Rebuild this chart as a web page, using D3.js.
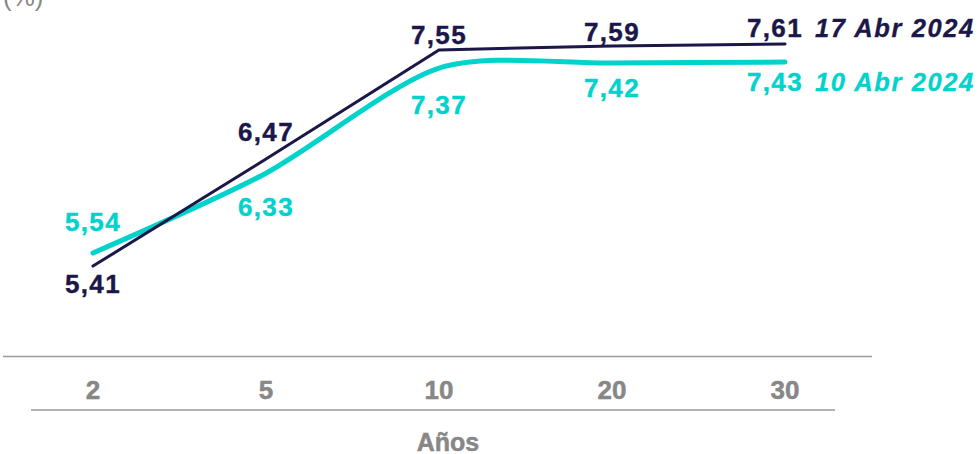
<!DOCTYPE html>
<html><head><meta charset="utf-8">
<script src="https://cdn.jsdelivr.net/npm/d3@7"></script>
<style>
html,body{margin:0;padding:0;background:#fff;}
svg{display:block;font-family:"Liberation Sans",Arial,sans-serif;}
</style></head>
<body>
<svg id="c" width="979" height="454"></svg>
<script>
const categories = ["2","5","10","20","30"];
const seriesApr17 = [5.41, 6.47, 7.55, 7.59, 7.61];
const seriesApr10 = [5.54, 6.33, 7.37, 7.42, 7.43];
const seriesNames = ["17 Abr 2024", "10 Abr 2024"];
const valueLabels17 = ["5,41","6,47","7,55","7,59","7,61"];
const valueLabels10 = ["5,54","6,33","7,37","7,42","7,43"];
// label layout: vertical baseline offset from the point (px)
const dy17 = [27, -18, -6, -5, -7];
const dy10 = [-22, 43, 46, 34, 29];

const svg = d3.select("#c");
const navy = "#1b1748", cyan = "#00d2cc", gray = "#878787";

const x = d3.scalePoint().domain(categories).range([93, 785]);
const y = d3.scaleLinear().domain([4.5, 8.0]).range([358, 4.5]);

// top baseline
svg.append("line").attr("x1",3).attr("x2",872).attr("y1",356.5).attr("y2",356.5)
  .attr("stroke","#9a9a9a").attr("stroke-width",1.5);
// lower axis
const axisG = svg.append("g").attr("transform","translate(0,410)");
axisG.append("line").attr("x1",31).attr("x2",835).attr("y1",0).attr("y2",0)
  .attr("stroke","#9a9a9a").attr("stroke-width",1.5);
axisG.selectAll("text.tick").data(categories).join("text")
  .attr("class","tick")
  .attr("x", d=>x(d)).attr("y",-11)
  .attr("text-anchor","middle")
  .attr("font-size",26).attr("font-weight","bold").attr("fill",gray)
  .attr("stroke",gray).attr("stroke-width",0.5)
  .text(d=>d);
svg.append("text").attr("x",448).attr("y",451).attr("text-anchor","middle")
  .attr("font-size",25).attr("font-weight","bold").attr("fill",gray)
  .attr("stroke",gray).attr("stroke-width",0.5).text("Años");
svg.append("text").attr("x",3).attr("y",6).attr("font-size",26)
  .attr("fill",gray).text("(%)");

// lines
const line17 = d3.line().x((d,i)=>x(categories[i])).y(d=>y(d)).curve(d3.curveLinear);
const line10 = d3.line().x((d,i)=>x(categories[i])).y(d=>y(d)).curve(d3.curveCardinal.tension(0.2));

svg.append("path").attr("d", line10(seriesApr10)).attr("fill","none")
  .attr("stroke",cyan).attr("stroke-width",5).attr("stroke-linecap","round");
svg.append("path").attr("d", line17(seriesApr17)).attr("fill","none")
  .attr("stroke",navy).attr("stroke-width",3).attr("stroke-linecap","round");

function labels(vals, texts, dy, color){
  svg.append("g").selectAll("text").data(vals).join("text")
    .attr("x",(d,i)=> i===vals.length-1 ? x(categories[i])-10 : x(categories[i]))
    .attr("y",(d,i)=> y(d) + dy[i])
    .attr("text-anchor","middle")
    .attr("font-size",26).attr("font-weight","bold").attr("letter-spacing",1.4)
    .attr("fill",color).attr("stroke",color).attr("stroke-width",0.4)
    .text((d,i)=>texts[i]);
}
labels(seriesApr17, valueLabels17, dy17, navy);
labels(seriesApr10, valueLabels10, dy10, cyan);

// series names
svg.append("text").attr("x",815).attr("y", y(seriesApr17[4]) + dy17[4])
  .attr("font-size",25.5).attr("font-weight","bold").attr("font-style","italic")
  .attr("letter-spacing",1.6).attr("fill",navy).attr("stroke",navy).attr("stroke-width",0.3)
  .text(seriesNames[0]);
svg.append("text").attr("x",815).attr("y", y(seriesApr10[4]) + dy10[4])
  .attr("font-size",25.5).attr("font-weight","bold").attr("font-style","italic")
  .attr("letter-spacing",1.6).attr("fill",cyan).attr("stroke",cyan).attr("stroke-width",0.3)
  .text(seriesNames[1]);
</script>
</body></html>
